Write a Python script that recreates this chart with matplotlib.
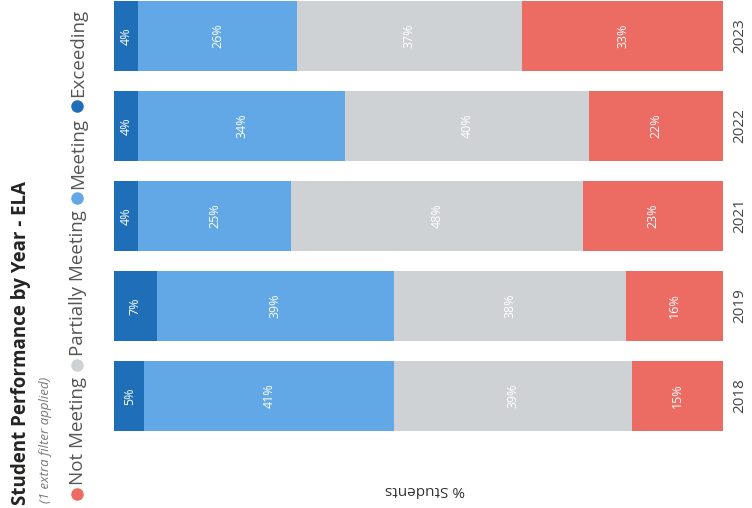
import matplotlib
matplotlib.use("Agg")
import matplotlib.pyplot as plt
import numpy as np

years = ["2018", "2019", "2021", "2022", "2023"]
categories = ["Exceeding", "Meeting", "Partially Meeting", "Not Meeting"]
exceeding = [5, 7, 4, 4, 4]
meeting = [41, 39, 25, 34, 26]
partially = [39, 38, 48, 40, 37]
not_meeting = [15, 16, 23, 22, 33]
colors = {"Exceeding": "#1f6fb8", "Meeting": "#62a8e6",
          "Partially Meeting": "#cfd2d5", "Not Meeting": "#ec6b62"}
series = [exceeding, meeting, partially, not_meeting]
legend_order = ["Not Meeting", "Partially Meeting", "Meeting", "Exceeding"]

plt.rcParams['font.family'] = ['Open Sans', 'DejaVu Sans']
W, H = 752, 508
fig = plt.figure(figsize=(W/100, H/100), dpi=100)
ax = fig.add_axes([114/W, 67/H, (723-114)/W, 1 - 67/H])

ypos = np.arange(len(years))
left = np.zeros(len(years))
for cat, vals in zip(categories, series):
    vals = np.array(vals, dtype=float)
    ax.barh(ypos, vals, left=left, height=0.78, color=colors[cat], edgecolor='none')
    for yi, (l, v) in enumerate(zip(left, vals)):
        ax.text(l + v/2, yi, f"{int(v)}%", rotation=90, ha='center', va='center',
                color='white', fontsize=9)
    left += vals

ax.set_xlim(0, 100)
ax.set_ylim(-0.5, 4.4)
ax.set_yticks(ypos)
ax.set_yticklabels(years, rotation=90, va='center', fontsize=11, color='#444444')
ax.yaxis.tick_right()
ax.tick_params(axis='y', length=0, pad=7)
ax.set_xticks([])
for s in ax.spines.values():
    s.set_visible(False)

# axis label (appears upside down)
fig.text(425/W, 1 - 490/H, "% Students", rotation=180, ha='center', va='center',
         fontsize=11, color='#333333')

# title and subtitle
fig.text(21/W, 1 - 505/H, "Student Performance by Year - ELA", rotation=90,
         rotation_mode='anchor', ha='left', va='center', fontsize=13.5,
         fontweight='bold', color='#252423')
fig.text(46/W, 1 - 503/H, "(1 extra filter applied)", rotation=90,
         rotation_mode='anchor', ha='left', va='center', fontsize=9.5,
         style='italic', color='#777777')

# legend (vertical, reading bottom to top)
fig.canvas.draw()
renderer = fig.canvas.get_renderer()
ycur = 1 - 494/H
xleg = 77/W
for cat in legend_order:
    fig.add_artist(plt.Line2D([xleg], [ycur], marker='o', markersize=8,
                              color=colors[cat], linestyle='none',
                              transform=fig.transFigure))
    ycur += 9/H
    t = fig.text(xleg + 1/W, ycur, cat, rotation=90, rotation_mode='anchor',
                 ha='left', va='center', fontsize=13.5, color='#555555')
    bb = t.get_window_extent(renderer=renderer)
    ycur += bb.height/H + 12/H

fig.savefig("out.png", dpi=100)
